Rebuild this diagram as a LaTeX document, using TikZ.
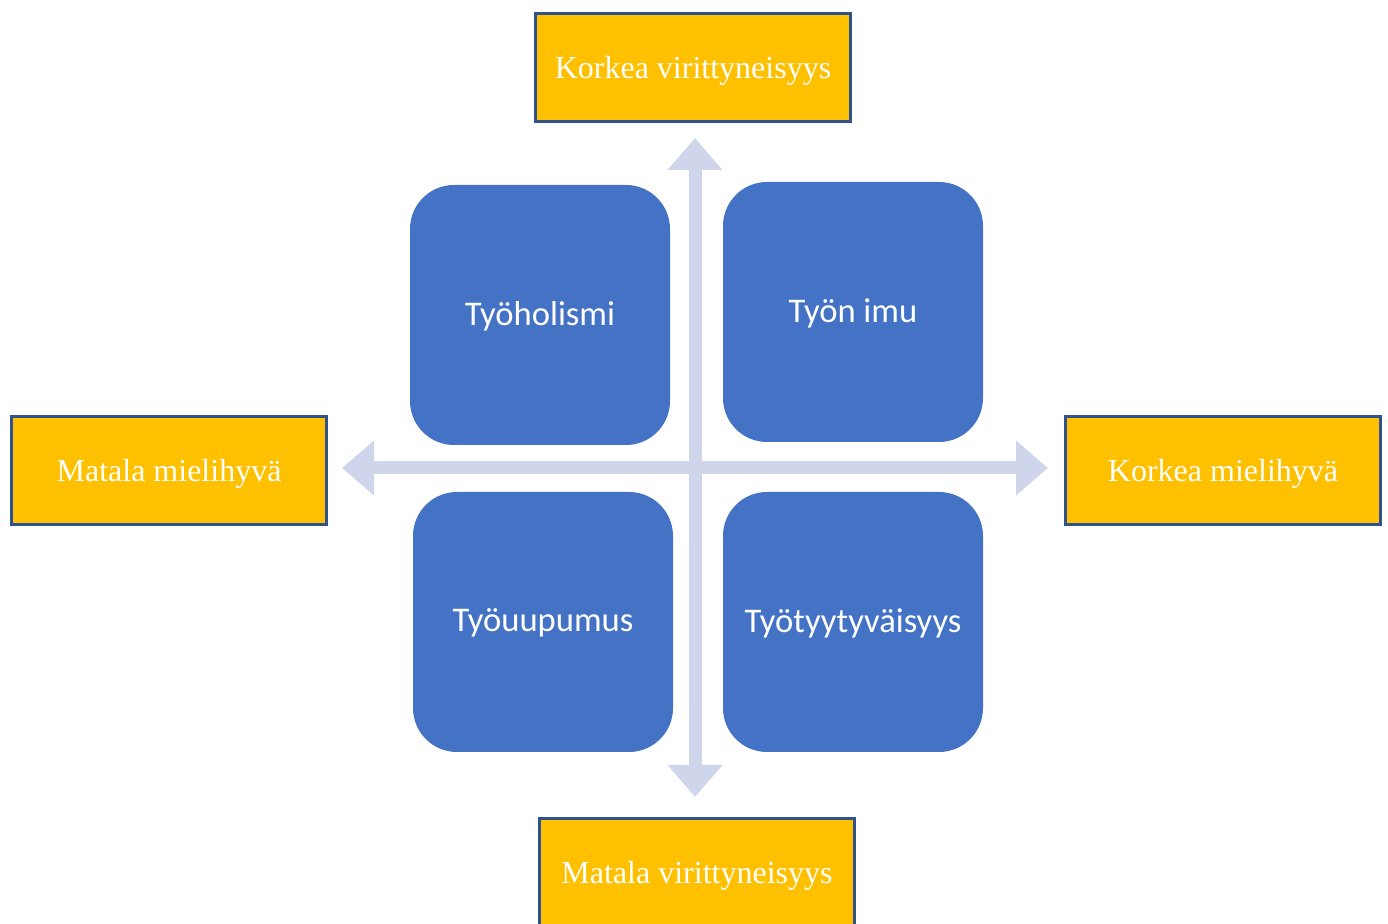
\documentclass[tikz,border=0pt]{standalone}
\usepackage{fontspec}
\setmainfont{Liberation Serif}
\newfontfamily\blockfont{Carlito}
\usepackage{xcolor}
\usetikzlibrary{arrows.meta}
\definecolor{polefill}{HTML}{FFC000}
\definecolor{poleline}{HTML}{2F528F}
\definecolor{quadfill}{HTML}{4472C4}
\definecolor{axiscol}{HTML}{CFD5EA}
\tikzset{
  pole/.style = {draw=poleline, fill=polefill, line width=1.25pt,
    minimum width=157.5pt, minimum height=54pt, inner sep=0pt, text depth=0pt,
    text=white, font=\fontsize{16}{19}\selectfont},
  quadrant/.style = {fill=quadfill, rounded corners=22pt, minimum size=130pt,
    inner sep=0pt, text depth=1.5pt, text=white,
    font=\blockfont\fontsize{17.3}{20}\selectfont},
  axis/.style = {draw=axiscol, line width=6.5pt,
    {Triangle[width=26.5pt,length=16pt]}-{Triangle[width=26.5pt,length=16pt]}}
}

\begin{document}
\begin{tikzpicture}[x=0.5pt,y=-0.5pt]
  \useasboundingbox (0,0) rectangle (1388,924);
  \clip (0,0) rectangle (1388,924);

  % axes
  \coordinate (up) at (695,138);
  \coordinate (down) at (695,797);
  \coordinate (left) at (342,468);
  \coordinate (right) at (1048,468);
  \draw[axis] (left) -- (right);
  \draw[axis] (down) -- (up);

  % quadrants
  \node[quadrant] (holism) at (540,315) {Työholismi};
  \node[quadrant] (engage) at (853,312) {Työn imu};
  \node[quadrant] (burnout) at (543,622) {Työuupumus};
  \node[quadrant] (satisf) at (853,622) {Työtyytyväisyys};

  % poles
  \node[pole] (higharousal) at (693,67.5) {Korkea virittyneisyys};
  \node[pole] (lowarousal) at (697,872.5) {Matala virittyneisyys};
  \node[pole] (lowpleasure) at (169,470.5) {Matala mielihyvä};
  \node[pole] (highpleasure) at (1223,470.5) {Korkea mielihyvä};
\end{tikzpicture}
\end{document}
